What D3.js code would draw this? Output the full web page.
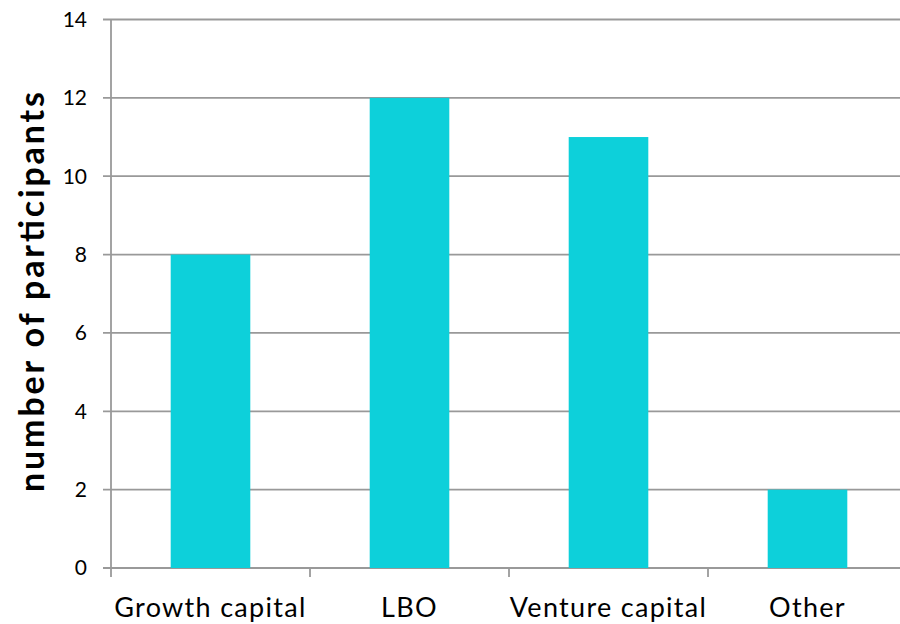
<!DOCTYPE html>
<html>
<head>
<meta charset="utf-8">
<script src="https://cdn.jsdelivr.net/npm/d3@7"></script>
<style>
  html, body { margin: 0; padding: 0; background: #fff; }
  svg { display: block; }
  text { font-family: "Lato", "Open Sans", sans-serif; fill: #000; }
</style>
</head>
<body>
<svg id="chart" width="900" height="624"></svg>
<script>
// Participants by investment type
const categories = ["Growth capital", "LBO", "Venture capital", "Other"];
const participants = [8, 12, 11, 2];
const yTicks = [0, 2, 4, 6, 8, 10, 12, 14];
const yTitle = "number of participants";

const svg = d3.select("#chart");
const plot = { left: 111, right: 907, top: 19.5, bottom: 568 };

const x = d3.scaleBand()
  .domain(categories)
  .range([plot.left, plot.right])
  .paddingInner(0.6)
  .paddingOuter(0.3);

const xTicks = d3.scaleBand().domain(categories).range([plot.left, plot.right]);

const y = d3.scaleLinear().domain([0, 14]).range([plot.bottom, plot.top]);

const gridColor = "#999";

// Horizontal gridlines with small ticks left of the axis
svg.append("g")
  .selectAll("line")
  .data(yTicks)
  .join("line")
  .attr("x1", plot.left - 8)
  .attr("x2", plot.right)
  .attr("y1", d => y(d))
  .attr("y2", d => y(d))
  .attr("stroke", gridColor)
  .attr("stroke-width", 1.8);

// Y tick labels
svg.append("g")
  .selectAll("text")
  .data(yTicks)
  .join("text")
  .attr("x", 87)
  .attr("y", d => y(d))
  .attr("dy", "0.35em")
  .attr("text-anchor", "end")
  .attr("font-size", 21)
  .text(d => d);

// Bars
svg.append("g")
  .selectAll("rect")
  .data(categories)
  .join("rect")
  .attr("x", d => x(d))
  .attr("width", x.bandwidth())
  .attr("y", (d, i) => y(participants[i]))
  .attr("height", (d, i) => y(0) - y(participants[i]))
  .attr("fill", "#0dd0da");

// Vertical axis line
svg.append("line")
  .attr("x1", plot.left).attr("x2", plot.left)
  .attr("y1", plot.top).attr("y2", plot.bottom + 9)
  .attr("stroke", gridColor)
  .attr("stroke-width", 1.8);

// Category boundary ticks below the baseline
svg.append("g")
  .selectAll("line")
  .data(categories.slice(1))
  .join("line")
  .attr("x1", d => xTicks(d))
  .attr("x2", d => xTicks(d))
  .attr("y1", plot.bottom)
  .attr("y2", plot.bottom + 9)
  .attr("stroke", gridColor)
  .attr("stroke-width", 1.8);

// Category labels
svg.append("g")
  .selectAll("text")
  .data(categories)
  .join("text")
  .attr("x", d => x(d) + x.bandwidth() / 2)
  .attr("y", 617)
  .attr("text-anchor", "middle")
  .attr("font-size", 27)
  .attr("letter-spacing", 1.3)
  .text(d => d);

// Y axis title
svg.append("text")
  .attr("transform", `translate(44, 292) rotate(-90)`)
  .attr("text-anchor", "middle")
  .attr("font-size", 34)
  .attr("font-weight", "bold")
  .attr("textLength", 400)
  .attr("lengthAdjust", "spacing")
  .text(yTitle);
</script>
</body>
</html>
